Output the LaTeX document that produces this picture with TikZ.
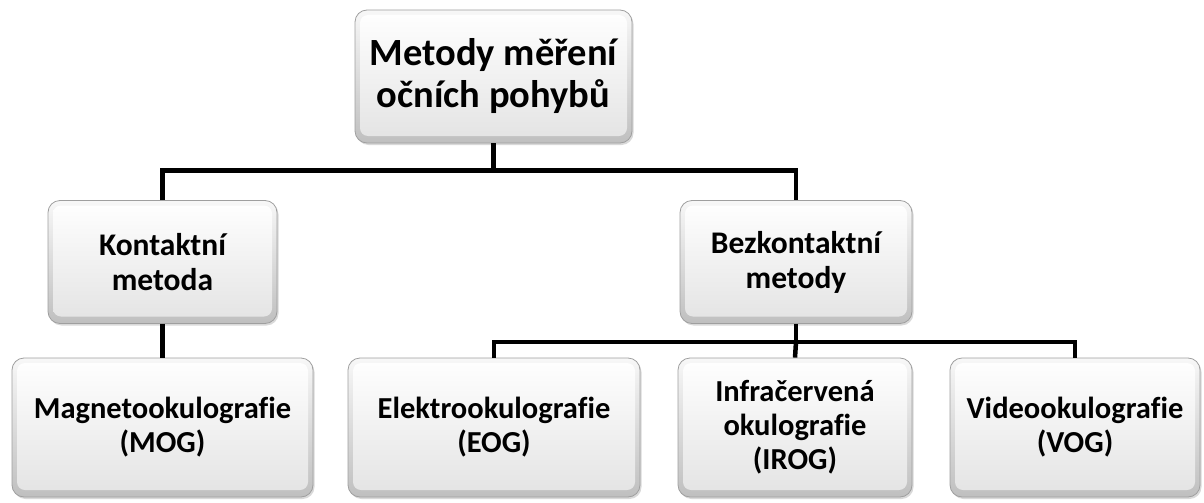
\documentclass[tikz,border=0pt]{standalone}
\usepackage{fontspec}
\setmainfont{Carlito}[Ligatures=NoCommon]
\usetikzlibrary{shadows}
\tikzset{
  box/.style={rounded corners=12pt, draw=gray!75, line width=0.8pt,
    top color=gray!6, bottom color=gray!50, align=center, inner sep=0pt,
    drop shadow={shadow xshift=1.5pt, shadow yshift=-2pt, opacity=0.3},
    path picture={\shade[rounded corners=8pt, top color=white, bottom color=gray!22]
      ([shift={(5pt,-5pt)}]path picture bounding box.north west) rectangle
      ([shift={(-5pt,7pt)}]path picture bounding box.south east);}},
  bigtxt/.style={font=\bfseries\fontsize{38.5}{42}\selectfont},
  midtxt/.style={font=\bfseries\fontsize{31.5}{35}\selectfont},
  lowtxt/.style={font=\bfseries\fontsize{30.5}{34}\selectfont},
  link/.style={line width=4.5pt, black}
}
\begin{document}
\begin{tikzpicture}[x=1pt,y=-1pt]
\useasboundingbox (0,0) rectangle (1204,503);
\node[box, bigtxt, minimum width=277pt, minimum height=133pt] (top) at (493.5,76.5) {Metody měření\\očních pohybů};
\node[box, midtxt, minimum width=229pt, minimum height=123pt] (kont) at (162.5,262) {Kontaktní\\metoda};
\node[box, midtxt, minimum width=232pt, minimum height=123pt] (bez) at (796,262) {Bezkontaktní\\metody};
\node[box, lowtxt, minimum width=301pt, minimum height=139pt] (mag) at (162.5,427.5) {Magnetookulografie\\(MOG)};
\node[box, lowtxt, minimum width=292pt, minimum height=139pt] (ele) at (494,427.5) {Elektrookulografie\\(EOG)};
\node[box, lowtxt, minimum width=234pt, minimum height=139pt] (inf) at (795,427.5) {Infračervená\\okulografie\\(IROG)};
\node[box, lowtxt, minimum width=250pt, minimum height=139pt] (vid) at (1075,427.5) {Videookulografie\\(VOG)};
\path (top.south) ++(0,27) coordinate (j1);
\path (bez.south) ++(0,18) coordinate (j2);
\draw[link] (top.south) -- (j1);
\draw[link] (kont.north) -- (kont.north |- j1) -- (bez.north |- j1) -- (bez.north);
\draw[link] (kont.south) -- (mag.north);
\draw[link] (bez.south) -- (j2);
\draw[link] (ele.north) -- (ele.north |- j2) -- (vid.north |- j2) -- (vid.north);
\draw[link] (j2) -- (inf.north);
\end{tikzpicture}
\end{document}
